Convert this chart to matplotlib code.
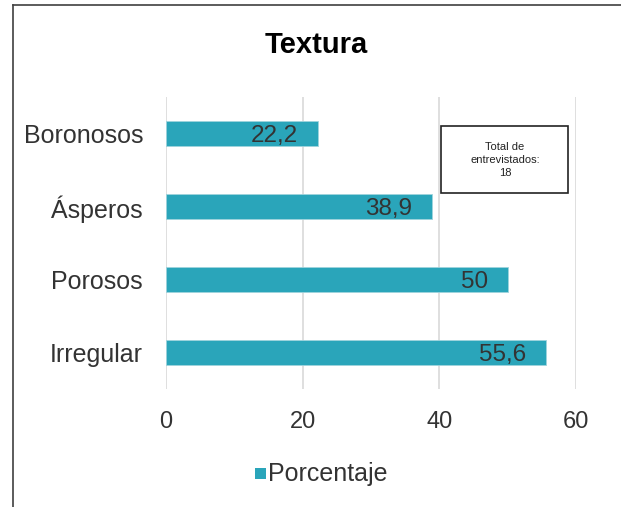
import matplotlib.pyplot as plt
from matplotlib.patches import Rectangle
from matplotlib.lines import Line2D

categorias = ["Boronosos", "Ásperos", "Porosos", "Irregular"]
porcentaje = [22.2, 38.9, 50, 55.6]
etiquetas = ["22,2", "38,9", "50", "55,6"]
ticks_x = [0, 20, 40, 60]

plt.rcParams["font.family"] = ["Liberation Sans", "DejaVu Sans"]

fig = plt.figure(figsize=(6.21, 5.07), dpi=100)
fig.patch.set_facecolor("white")

# marco del gráfico (izquierda y arriba)
fig.add_artist(Line2D([13 / 621, 13 / 621], [0, 1 - 5 / 507], color="#404040", lw=1.2))
fig.add_artist(Line2D([13 / 621, 1], [1 - 5 / 507, 1 - 5 / 507], color="#404040", lw=1.2))

ax = fig.add_axes([166 / 621, 1 - 389 / 507, 410 / 621, 292 / 507])
color_barra = "#2aa5ba"
ypos = list(range(len(categorias)))
ax.barh(ypos, porcentaje, height=0.33, color=color_barra, edgecolor="#9fd4dd", lw=0.6, zorder=3)
ax.set_ylim(len(categorias) - 0.5, -0.5)
ax.set_xlim(0, 60)
ax.set_xticks(ticks_x)
ax.set_yticks(ypos)
ax.set_yticklabels(categorias, fontsize=18, color="#333333")
ax.tick_params(axis="x", labelsize=17, colors="#333333", length=0, pad=15.5)
ax.tick_params(axis="y", length=0, pad=16.5)
ax.grid(axis="x", color="#d9d9d9", lw=1.2, zorder=0)
for s in ax.spines.values():
    s.set_visible(False)

for y, v, t in zip(ypos, porcentaje, etiquetas):
    ax.annotate(t, (v, y), xytext=(-14, 0), textcoords="offset points",
                ha="right", va="center_baseline", fontsize=17.5, color="#333333", zorder=4)

fig.text(316 / 621, 1 - 53 / 507, "Textura", ha="center", va="baseline",
         fontsize=21, fontweight="bold", color="black")

# caja de texto
fig.add_artist(Rectangle((441 / 621, 1 - 193 / 507), 127 / 621, 67 / 507,
                         transform=fig.transFigure, fill=True, facecolor="white",
                         edgecolor="#222222", lw=1.2, zorder=5))
fig.text(505 / 621, 1 - 160 / 507, "Total de\nentrevistados:\n18", ha="center", va="center",
         fontsize=8, color="#222222", linespacing=1.35, zorder=6)

# leyenda
fig.add_artist(Rectangle((255 / 621, 1 - 479 / 507), 11 / 621, 11 / 507,
                         transform=fig.transFigure, facecolor=color_barra, edgecolor="none"))
fig.text(268 / 621, 1 - 481 / 507, "Porcentaje", ha="left", va="baseline",
         fontsize=18, color="#333333")

fig.savefig("out.png", dpi=100, facecolor="white")
